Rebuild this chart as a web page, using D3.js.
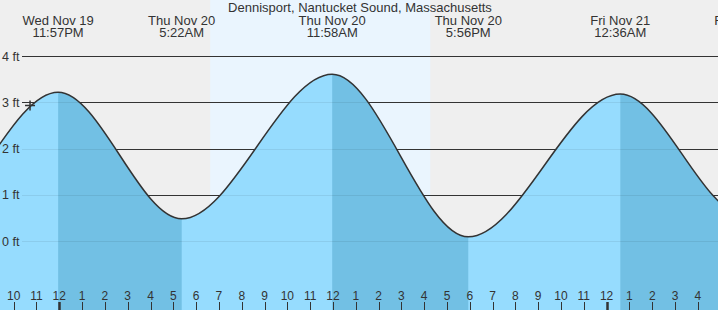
<!DOCTYPE html>
<html>
<head>
<meta charset="utf-8">
<script src="https://cdn.jsdelivr.net/npm/d3@7"></script>
<style>
  html, body { margin: 0; padding: 0; background: #efefef; }
  svg { display: block; }
  text { font-family: "Liberation Sans", Arial, sans-serif; fill: #333; }
</style>
</head>
<body>
<svg id="chart" width="718" height="310"></svg>
<script>
// ---- data ----
const title = "Dennisport, Nantucket Sound, Massachusetts";
const tideTimes = [
  [2025, 10, 19, 11, 33], [2025, 10, 19, 17, 45], [2025, 10, 19, 23, 57],
  [2025, 10, 20, 5, 22], [2025, 10, 20, 11, 58], [2025, 10, 20, 17, 56],
  [2025, 10, 21, 0, 36], [2025, 10, 21, 6, 2], [2025, 10, 21, 12, 30]
];
const tideHeights = [3.3, 0.2, 3.22, 0.48, 3.61, 0.09, 3.18, 0.57, 3.4];
const tideDayLabels = ["Wed Nov 19", "Wed Nov 19", "Wed Nov 19", "Thu Nov 20", "Thu Nov 20", "Thu Nov 20", "Fri Nov 21", "Fri Nov 21", "Fri Nov 21"];
const tideTimeLabels = ["11:33AM", "5:45PM", "11:57PM", "5:22AM", "11:58AM", "5:56PM", "12:36AM", "6:02AM", "12:30PM"];
const daylight = [[2025, 10, 20, 6, 37], [2025, 10, 20, 16, 16]];
const viewRange = [[2025, 10, 19, 21, 24], [2025, 10, 21, 4, 53]];
const nowTime = [2025, 10, 19, 22, 43];
const feetTicks = [0, 1, 2, 3, 4];

// ---- setup ----
const W = 718, H = 310;
const toDate = a => new Date(a[0], a[1], a[2], a[3], a[4]);
const tides = tideTimes.map((t, i) => ({
  date: toDate(t), h: tideHeights[i], day: tideDayLabels[i], time: tideTimeLabels[i]
}));

const x = d3.scaleTime().domain(viewRange.map(toDate)).range([0, W]);
const y = d3.scaleLinear().domain([0, 4]).range([241, 56.2]);

const svg = d3.select("#chart");

// day band
svg.append("rect")
  .attr("x", x(toDate(daylight[0])))
  .attr("y", 0)
  .attr("width", x(toDate(daylight[1])) - x(toDate(daylight[0])))
  .attr("height", H)
  .attr("fill", "#eaf5fe");

// grid lines (dark, behind water)
svg.append("g").selectAll("line").data(feetTicks).join("line")
  .attr("x1", 22).attr("x2", W)
  .attr("y1", d => Math.round(y(d)) + 0.5).attr("y2", d => Math.round(y(d)) + 0.5)
  .attr("stroke", "#333").attr("stroke-width", 1);

// water area
const area = d3.area()
  .x(d => x(d.date))
  .y0(H)
  .y1(d => y(d.h))
  .curve(d3.curveMonotoneX);

const line = d3.line()
  .x(d => x(d.date))
  .y(d => y(d.h))
  .curve(d3.curveMonotoneX);

const defs = svg.append("defs");
defs.append("clipPath").attr("id", "waterClip")
  .append("path").attr("d", area(tides));

svg.append("path").attr("d", area(tides)).attr("fill", "#96dcfe");

// falling-tide (high -> low) darker segments
const falling = [];
for (let i = 0; i < tides.length - 1; i++) {
  if (tides[i].h > tides[i + 1].h) falling.push([tides[i].date, tides[i + 1].date]);
}
svg.append("g").attr("clip-path", "url(#waterClip)")
  .selectAll("rect").data(falling).join("rect")
  .attr("x", d => x(d[0]))
  .attr("width", d => x(d[1]) - x(d[0]))
  .attr("y", 0).attr("height", H)
  .attr("fill", "#72c0e4");

// faint grid lines over water
svg.append("g").attr("clip-path", "url(#waterClip)")
  .selectAll("line").data(feetTicks).join("line")
  .attr("x1", 22).attr("x2", W)
  .attr("y1", d => Math.round(y(d)) + 0.5).attr("y2", d => Math.round(y(d)) + 0.5)
  .attr("stroke", "#000").attr("stroke-opacity", 0.07).attr("stroke-width", 1);

// y labels
svg.append("g").selectAll("text").data(feetTicks).join("text")
  .attr("x", 2).attr("y", d => y(d) + 4.5)
  .attr("font-size", 12.5)
  .text(d => d + " ft");

// tide curve
svg.append("path").attr("d", line(tides))
  .attr("fill", "none").attr("stroke", "#333").attr("stroke-width", 1.5);

// now marker
const nx = x(toDate(nowTime)), ny = 105.5;
svg.append("path")
  .attr("d", `M${nx - 5},${ny}H${nx + 5}M${nx},${ny - 5}V${ny + 5}`)
  .attr("stroke", "#333").attr("stroke-width", 1.5).attr("fill", "none");

// hour ticks
const hours = d3.timeHour.every(1).range(x.domain()[0], x.domain()[1]);
const tickG = svg.append("g");
tickG.selectAll("line").data(hours).join("line")
  .attr("x1", d => Math.round(x(d)) + 0.5).attr("x2", d => Math.round(x(d)) + 0.5)
  .attr("y1", 302).attr("y2", H)
  .attr("stroke", "#333")
  .attr("stroke-width", d => d.getHours() === 0 ? 2.5 : 1);
tickG.selectAll("text").data(hours).join("text")
  .attr("x", d => x(d)).attr("y", 300)
  .attr("text-anchor", "middle").attr("font-size", 12)
  .text(d3.timeFormat("%-I"));

// title
svg.append("text").attr("x", 360).attr("y", 12)
  .attr("text-anchor", "middle").attr("font-size", 13).text(title);

// extreme labels (only those that reach into view)
const visible = tides.filter(d => x(d.date) > -40 && x(d.date) < W + 40);
const lab = svg.append("g").selectAll("g").data(visible).join("g")
  .attr("transform", d => `translate(${x(d.date)},0)`);
lab.append("text").attr("y", 24.5).attr("text-anchor", "middle").attr("font-size", 13).text(d => d.day);
lab.append("text").attr("y", 37).attr("text-anchor", "middle").attr("font-size", 13).text(d => d.time);
</script>
</body>
</html>
